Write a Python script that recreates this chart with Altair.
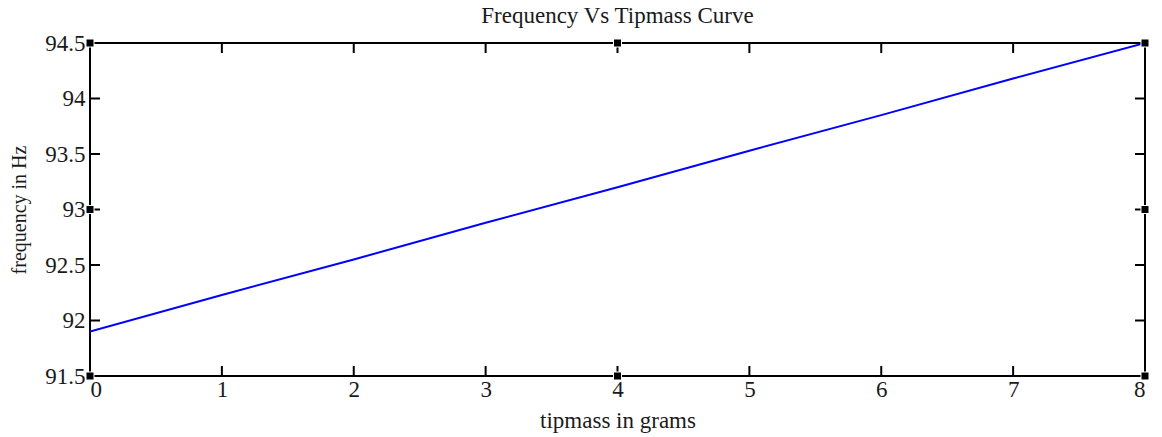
import altair as alt
import pandas as pd

tipmass = [0, 1, 2, 3, 4, 5, 6, 7, 8]
frequency = [91.9, 92.23, 92.55, 92.88, 93.2, 93.53, 93.85, 94.18, 94.5]

x_ticks = [0, 1, 2, 3, 4, 5, 6, 7, 8]
y_ticks = [91.5, 92, 92.5, 93, 93.5, 94, 94.5]

handle_x = [0, 4, 8, 0, 8, 0, 4, 8]
handle_y = [94.5, 94.5, 94.5, 93, 93, 91.5, 91.5, 91.5]

W, H = 1055, 333
FONT = "Liberation Serif"

df = pd.DataFrame({"tipmass": tipmass, "frequency": frequency})
xt = pd.DataFrame({"x": x_ticks})
yt = pd.DataFrame({"y": y_ticks})
hd = pd.DataFrame({"x": handle_x, "y": handle_y})

xscale = alt.Scale(domain=[0, 8], nice=False, zero=False)
yscale = alt.Scale(domain=[91.5, 94.5], nice=False, zero=False)

xaxis = alt.Axis(title="tipmass in grams", values=x_ticks, format="~g",
                 labelPadding=2, titlePadding=8, titleFontSize=23)
yaxis = alt.Axis(title="frequency in Hz", values=y_ticks, format="~g",
                 labelPadding=5, titlePadding=15, titleFontSize=20)

line = alt.Chart(df).mark_line(color="#0000ff", strokeWidth=2, clip=True).encode(
    x=alt.X("tipmass:Q", scale=xscale, axis=xaxis),
    y=alt.Y("frequency:Q", scale=yscale, axis=yaxis),
)

tick_len = 10
left_ticks = alt.Chart(yt).mark_rule(color="black", strokeWidth=2).encode(
    y=alt.Y("y:Q", scale=yscale, axis=yaxis), x=alt.value(0), x2=alt.value(tick_len))
right_ticks = alt.Chart(yt).mark_rule(color="black", strokeWidth=2).encode(
    y=alt.Y("y:Q", scale=yscale, axis=yaxis), x=alt.value(W - tick_len), x2=alt.value(W))
bottom_ticks = alt.Chart(xt).mark_rule(color="black", strokeWidth=2).encode(
    x=alt.X("x:Q", scale=xscale, axis=xaxis), y=alt.value(H - tick_len), y2=alt.value(H))
top_ticks = alt.Chart(xt).mark_rule(color="black", strokeWidth=2).encode(
    x=alt.X("x:Q", scale=xscale, axis=xaxis), y=alt.value(0), y2=alt.value(tick_len))

handles = alt.Chart(hd).mark_point(shape="square", filled=True, color="black",
                                   size=64, opacity=1, clip=False,
                                   stroke="white", strokeWidth=1).encode(
    x=alt.X("x:Q", scale=xscale, axis=xaxis), y=alt.Y("y:Q", scale=yscale, axis=yaxis))

chart = alt.layer(line, left_ticks, right_ticks, bottom_ticks, top_ticks, handles).properties(
    width=W, height=H,
    title=alt.TitleParams("Frequency Vs Tipmass Curve", font=FONT, fontSize=23,
                          fontWeight="normal", color="#1a1a1a", offset=4),
    autosize=alt.AutoSizeParams(type="none"),
    padding={"left": 90, "top": 43, "right": 17, "bottom": 61},
    background="white",
).configure_view(stroke="black", strokeWidth=2).configure_axis(
    tickSize=0, domain=False, grid=False,
    labelFont=FONT, labelFontSize=23, labelColor="#1a1a1a",
    titleFont=FONT, titleFontWeight="normal", titleColor="#1a1a1a",
)

chart.save("out.html", embed_options={"renderer": "svg", "actions": False})
